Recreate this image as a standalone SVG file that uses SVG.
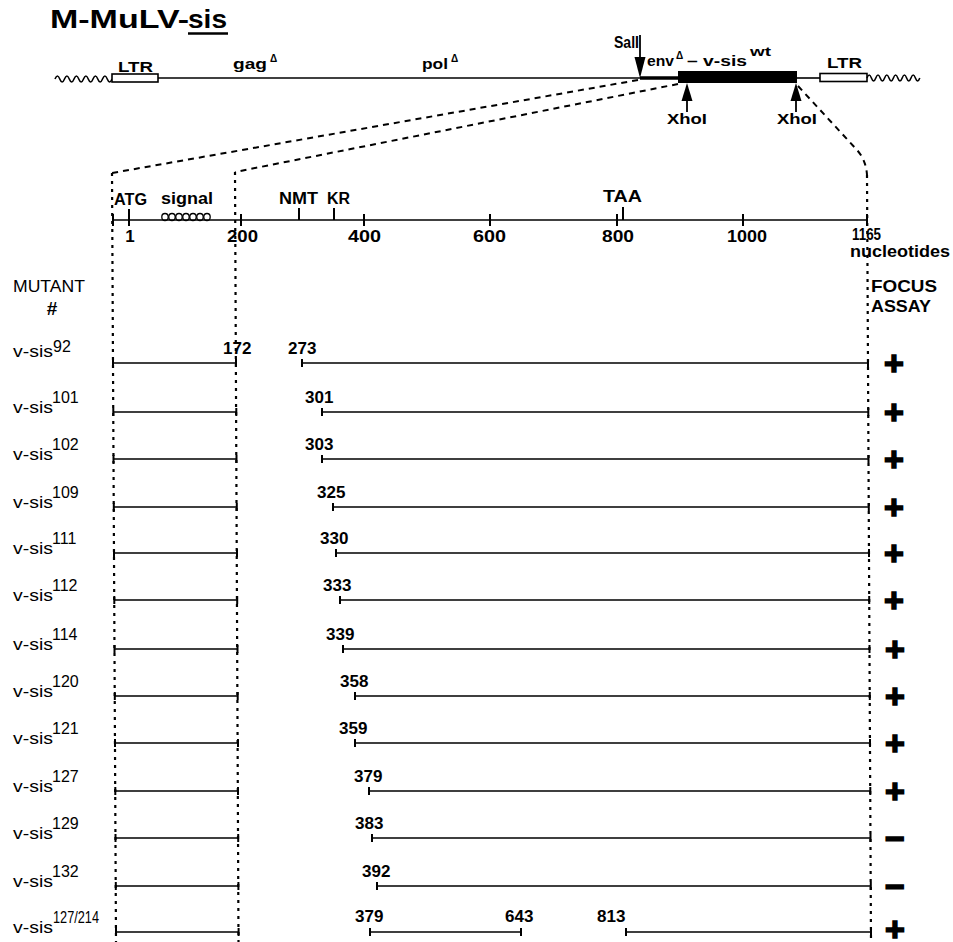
<svg xmlns="http://www.w3.org/2000/svg" width="953" height="942" viewBox="0 0 953 942">
<style>
text{font-family:"Liberation Sans",Arial,sans-serif;fill:#000}
.b{font-weight:bold}
.num{font-weight:bold;font-size:17px}
.lab{font-size:17px}
.sup{font-size:16px}
.ln{stroke:#000;stroke-width:1.6;fill:none}
.tk{stroke:#000;stroke-width:2;fill:none}
.dot{stroke:#000;stroke-width:2.2;stroke-dasharray:3 5;fill:none}
.dash{stroke:#000;stroke-width:2;stroke-dasharray:6 5;fill:none}
.sign{font-weight:bold;font-size:34px;stroke:#000;stroke-width:1.6;text-anchor:middle}
</style>
<rect width="953" height="942" fill="#fff"/>

<g id="title">
<text x="50" y="28" class="b" font-size="25" textLength="139" lengthAdjust="spacingAndGlyphs">M-MuLV-</text>
<text x="188" y="28" class="b" font-size="25" textLength="39" lengthAdjust="spacingAndGlyphs">sis</text>
<line x1="188" y1="33.5" x2="228" y2="33.5" stroke="#000" stroke-width="2.5"/>
</g>

<g id="genome">
<path class="ln" d="M55 79 q2.4 -6 4.75 0 t4.75 0 t4.75 0 t4.75 0 t4.75 0 t4.75 0 t4.75 0 t4.75 0 t4.75 0 t4.75 0 t4.75 0 t4.75 0"/>
<rect x="112" y="74" width="46" height="8" fill="#fff" stroke="#000" stroke-width="1.6"/>
<line x1="158" y1="78" x2="640" y2="78" stroke="#000" stroke-width="1.6"/>
<line x1="640" y1="78" x2="680" y2="78" stroke="#000" stroke-width="3.5"/>
<rect x="678" y="71" width="119" height="12" fill="#000"/>
<line x1="797" y1="78" x2="820" y2="78" stroke="#000" stroke-width="1.6"/>
<rect x="820" y="73.5" width="47" height="8" fill="#fff" stroke="#000" stroke-width="1.6"/>
<path class="ln" d="M867 78 q2.2 -6 4.4 0 t4.4 0 t4.4 0 t4.4 0 t4.4 0 t4.4 0 t4.4 0 t4.4 0 t4.4 0 t4.4 0 t4.4 0 t4.4 0"/>
<text x="118" y="72" class="b" font-size="15" textLength="35" lengthAdjust="spacingAndGlyphs">LTR</text>
<text x="233" y="69" class="b" font-size="15" textLength="34" lengthAdjust="spacingAndGlyphs">gag</text>
<text x="270" y="62" class="b" font-size="10">Δ</text>
<text x="422" y="69" class="b" font-size="15" textLength="26" lengthAdjust="spacingAndGlyphs">pol</text>
<text x="451" y="62" class="b" font-size="10">Δ</text>
<text x="827" y="68" class="b" font-size="15" textLength="35" lengthAdjust="spacingAndGlyphs">LTR</text>
<text x="614" y="48" class="b" font-size="17" textLength="25" lengthAdjust="spacingAndGlyphs">SalI</text>
<line x1="640" y1="35" x2="640" y2="60" stroke="#000" stroke-width="1.8"/>
<polygon points="634.5,57 645.5,57 640,78" fill="#000"/>
<text x="647" y="66" class="b" font-size="15" textLength="27" lengthAdjust="spacingAndGlyphs">env</text>
<text x="676" y="59" class="b" font-size="10">Δ</text>
<text x="687" y="66" class="b" font-size="15" textLength="60" lengthAdjust="spacingAndGlyphs">– v-sis</text>
<text x="750" y="56" class="b" font-size="13" textLength="21" lengthAdjust="spacingAndGlyphs">wt</text>
<line x1="687" y1="98" x2="687" y2="112" stroke="#000" stroke-width="1.8"/>
<polygon points="681.5,101 692.5,101 687,83" fill="#000"/>
<text x="667" y="124" class="b" font-size="15" textLength="40" lengthAdjust="spacingAndGlyphs">XhoI</text>
<line x1="796" y1="98" x2="796" y2="112" stroke="#000" stroke-width="1.8"/>
<polygon points="790.5,101 801.5,101 796,83" fill="#000"/>
<text x="777" y="124" class="b" font-size="15" textLength="40" lengthAdjust="spacingAndGlyphs">XhoI</text>
</g>

<g id="connectors">
<path class="dash" d="M638 80 L112 173"/>
<path class="dash" d="M678 84 L235 172"/>
<path class="dash" d="M798 86 L857 150 Q866 160 867 175"/>
<path class="dot" d="M112 173 L116 942"/>
<path class="dot" d="M235 172 L238.5 942"/>
<path class="dot" d="M867 175 L871 942"/>
</g>

<g id="scale">
<line x1="113" y1="220" x2="867" y2="220" stroke="#000" stroke-width="1.6"/>
<path class="tk" d="M113 214V226 M129 209V226 M241 214V226 M364 214V226 M490 214V226 M617 214V226 M743 214V226 M867 214V226 M299 208V220 M334 208V220 M623 207V220"/>
<g fill="none" stroke="#000" stroke-width="1.3">
<ellipse cx="165" cy="217" rx="3.2" ry="3.5"/>
<ellipse cx="172" cy="217" rx="3.2" ry="3.5"/>
<ellipse cx="179" cy="217" rx="3.2" ry="3.5"/>
<ellipse cx="186" cy="217" rx="3.2" ry="3.5"/>
<ellipse cx="193" cy="217" rx="3.2" ry="3.5"/>
<ellipse cx="200" cy="217" rx="3.2" ry="3.5"/>
<ellipse cx="207" cy="217" rx="3.2" ry="3.5"/>
</g>
<text x="114" y="205" class="b" font-size="16" textLength="33" lengthAdjust="spacingAndGlyphs">ATG</text>
<text x="161" y="204" class="b" font-size="17" textLength="52" lengthAdjust="spacingAndGlyphs">signal</text>
<text x="279" y="204" class="b" font-size="16" textLength="39" lengthAdjust="spacingAndGlyphs">NMT</text>
<text x="327" y="204" class="b" font-size="16" textLength="23" lengthAdjust="spacingAndGlyphs">KR</text>
<text x="603" y="202" class="b" font-size="16" textLength="39" lengthAdjust="spacingAndGlyphs">TAA</text>
<text x="130" y="242" class="num" text-anchor="middle">1</text>
<text x="227" y="242" class="num" textLength="31" lengthAdjust="spacingAndGlyphs">200</text>
<text x="348" y="242" class="num" textLength="33" lengthAdjust="spacingAndGlyphs">400</text>
<text x="473" y="242" class="num" textLength="33" lengthAdjust="spacingAndGlyphs">600</text>
<text x="602" y="242" class="num" textLength="32" lengthAdjust="spacingAndGlyphs">800</text>
<text x="727" y="242" class="num" textLength="40" lengthAdjust="spacingAndGlyphs">1000</text>
<text x="852" y="240" class="num" textLength="29" lengthAdjust="spacingAndGlyphs">1165</text>
<text x="850" y="257" class="b" font-size="16" textLength="100" lengthAdjust="spacingAndGlyphs">nucleotides</text>
</g>

<g id="headers">
<text x="13" y="292" class="lab" font-size="18" textLength="72" lengthAdjust="spacingAndGlyphs">MUTANT</text>
<text x="52" y="315" class="b" font-size="19" text-anchor="middle">#</text>
<text x="871" y="292" class="b" font-size="17" textLength="66" lengthAdjust="spacingAndGlyphs">FOCUS</text>
<text x="871" y="312" class="b" font-size="17" textLength="60" lengthAdjust="spacingAndGlyphs">ASSAY</text>
</g>

<g id="row-92">
<text x="13" y="357" class="lab" textLength="40" lengthAdjust="spacingAndGlyphs">v-sis</text><text x="53" y="352" class="sup">92</text>
<path class="ln" d="M113 363H236 M302 363H868"/><path class="tk" d="M113 359V367 M236 359V367 M302 359V367 M868 359V367"/>
<text x="223" y="354" class="num">172</text><text x="288" y="354" class="num">273</text>
<text x="894" y="375" class="sign">+</text>
</g>
<g id="row-101">
<text x="13" y="413" class="lab" textLength="40" lengthAdjust="spacingAndGlyphs">v-sis</text><text x="52" y="403" class="sup">101</text>
<path class="ln" d="M113.3 412H236.3 M322 412H868.3"/><path class="tk" d="M113.3 408V416 M236.3 408V416 M322 408V416 M868.3 408V416"/>
<text x="305" y="403" class="num">301</text>
<text x="894" y="424" class="sign">+</text>
</g>
<g id="row-102">
<text x="13" y="460" class="lab" textLength="40" lengthAdjust="spacingAndGlyphs">v-sis</text><text x="52" y="450" class="sup">102</text>
<path class="ln" d="M113.5 459H236.5 M322 459H868.5"/><path class="tk" d="M113.5 455V463 M236.5 455V463 M322 455V463 M868.5 455V463"/>
<text x="305" y="450" class="num">303</text>
<text x="894" y="471" class="sign">+</text>
</g>
<g id="row-109">
<text x="13" y="508" class="lab" textLength="40" lengthAdjust="spacingAndGlyphs">v-sis</text><text x="52" y="498" class="sup">109</text>
<path class="ln" d="M113.8 507H236.8 M333 507H868.8"/><path class="tk" d="M113.8 503V511 M236.8 503V511 M333 503V511 M868.8 503V511"/>
<text x="317" y="498" class="num">325</text>
<text x="894" y="519" class="sign">+</text>
</g>
<g id="row-111">
<text x="13" y="554" class="lab" textLength="40" lengthAdjust="spacingAndGlyphs">v-sis</text><text x="52" y="544" class="sup">111</text>
<path class="ln" d="M114 553H237 M336 553H869"/><path class="tk" d="M114 549V557 M237 549V557 M336 549V557 M869 549V557"/>
<text x="320" y="544" class="num">330</text>
<text x="894" y="565" class="sign">+</text>
</g>
<g id="row-112">
<text x="13" y="601" class="lab" textLength="40" lengthAdjust="spacingAndGlyphs">v-sis</text><text x="52" y="591" class="sup">112</text>
<path class="ln" d="M114.3 600H237.2 M340 600H869.2"/><path class="tk" d="M114.3 596V604 M237.2 596V604 M340 596V604 M869.2 596V604"/>
<text x="323" y="591" class="num">333</text>
<text x="894" y="612" class="sign">+</text>
</g>
<g id="row-114">
<text x="13" y="650" class="lab" textLength="40" lengthAdjust="spacingAndGlyphs">v-sis</text><text x="52" y="640" class="sup">114</text>
<path class="ln" d="M114.5 649H237.5 M343 649H869.5"/><path class="tk" d="M114.5 645V653 M237.5 645V653 M343 645V653 M869.5 645V653"/>
<text x="326" y="640" class="num">339</text>
<text x="895" y="661" class="sign">+</text>
</g>
<g id="row-120">
<text x="13" y="697" class="lab" textLength="40" lengthAdjust="spacingAndGlyphs">v-sis</text><text x="52" y="687" class="sup">120</text>
<path class="ln" d="M114.8 696H237.7 M355 696H869.8"/><path class="tk" d="M114.8 692V700 M237.7 692V700 M355 692V700 M869.8 692V700"/>
<text x="340" y="687" class="num">358</text>
<text x="895" y="708" class="sign">+</text>
</g>
<g id="row-121">
<text x="13" y="744" class="lab" textLength="40" lengthAdjust="spacingAndGlyphs">v-sis</text><text x="52" y="734" class="sup">121</text>
<path class="ln" d="M115 743H238 M355 743H870"/><path class="tk" d="M115 739V747 M238 739V747 M355 739V747 M870 739V747"/>
<text x="339" y="734" class="num">359</text>
<text x="895" y="755" class="sign">+</text>
</g>
<g id="row-127">
<text x="13" y="792" class="lab" textLength="40" lengthAdjust="spacingAndGlyphs">v-sis</text><text x="52" y="782" class="sup">127</text>
<path class="ln" d="M115.3 791H238 M369 791H870.3"/><path class="tk" d="M115.3 787V795 M238 787V795 M369 787V795 M870.3 787V795"/>
<text x="354" y="782" class="num">379</text>
<text x="895" y="803" class="sign">+</text>
</g>
<g id="row-129">
<text x="13" y="839" class="lab" textLength="40" lengthAdjust="spacingAndGlyphs">v-sis</text><text x="52" y="829" class="sup">129</text>
<path class="ln" d="M115.5 838H238.2 M372 838H870.5"/><path class="tk" d="M115.5 834V842 M238.2 834V842 M372 834V842 M870.5 834V842"/>
<text x="355" y="829" class="num">383</text>
<text x="895" y="850" class="sign">−</text>
</g>
<g id="row-132">
<text x="13" y="887" class="lab" textLength="40" lengthAdjust="spacingAndGlyphs">v-sis</text><text x="52" y="877" class="sup">132</text>
<path class="ln" d="M115.8 886H238.4 M377 886H870.8"/><path class="tk" d="M115.8 882V890 M238.4 882V890 M377 882V890 M870.8 882V890"/>
<text x="362" y="877" class="num">392</text>
<text x="895" y="898" class="sign">−</text>
</g>
<g id="row-127-214">
<text x="13" y="933" class="lab" textLength="40" lengthAdjust="spacingAndGlyphs">v-sis</text><text x="53" y="923" class="sup" textLength="46" lengthAdjust="spacingAndGlyphs">127/214</text>
<path class="ln" d="M116 932H238.6 M370 932H521 M626 932H871"/><path class="tk" d="M116 928V936 M238.6 928V936 M370 928V936 M521 928V936 M626 928V936 M871 928V936"/>
<text x="355" y="922" class="num">379</text><text x="505" y="922" class="num">643</text><text x="597" y="922" class="num">813</text>
<text x="895" y="941" class="sign" font-size="30">+</text>
</g>
</svg>
